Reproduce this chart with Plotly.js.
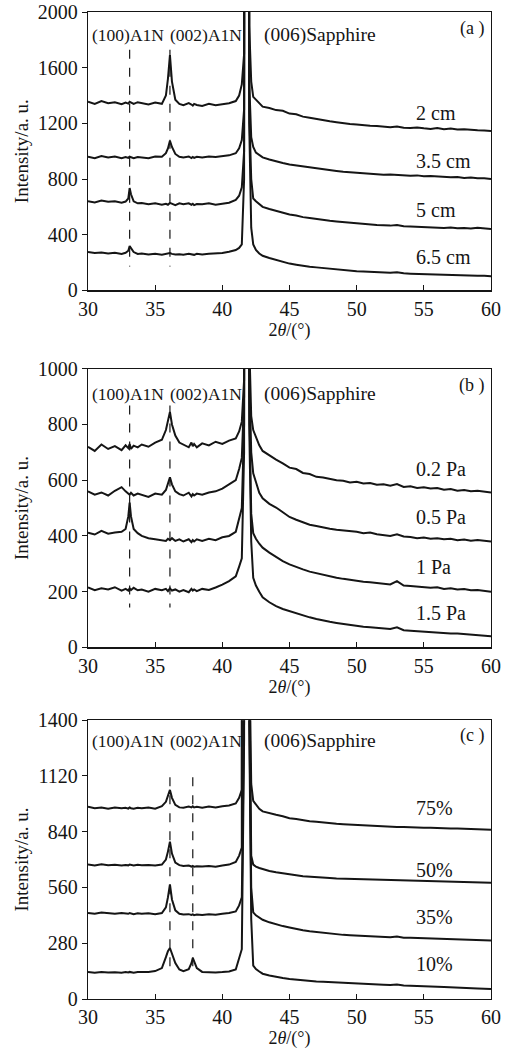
<!DOCTYPE html>
<html>
<head>
<meta charset="utf-8">
<script src="https://cdn.plot.ly/plotly-3.0.1.min.js"></script>
<style>html,body{margin:0;padding:0;background:#fff;}#chart{width:512px;height:1058px;}</style>
</head>
<body>
<div id="chart"></div>
<script>
// shared 2-theta grid (degrees)
const twoTheta = [30,30.5,31,31.5,32,32.5,32.8,33.0,33.1,33.2,33.4,33.7,34,34.5,35,35.5,35.8,35.95,36.1,36.25,36.5,36.8,37.1,37.5,37.7,37.8,37.9,38.1,38.5,39,39.5,40,40.5,41,41.25,41.45,41.62,41.8,42.0,42.15,42.3,42.5,42.75,43,43.5,44,44.5,45,45.5,46,46.5,47,47.5,48,48.5,49,49.5,50,50.5,51,51.5,52,52.5,53,53.5,54,54.5,55,55.5,56,56.5,57,57.5,58,58.5,59,59.5,60];

// panel (a): distance
const labelsA = ["2 cm","3.5 cm","5 cm","6.5 cm"];
const a_2cm = [1355,1340,1360,1345,1352,1338, 1350,1342,1355,1348,1340,1352, 1345,1335,1350,1340, 1400,1520,1690,1500,1370,1340, 1330,1345,1335,1328,1340,1332, 1325,1340,1330,1335,1345,1360, 1400,1480,1700,30000,1900,1500,1390,1370,1345,1320,
 1310,1295,1290,1270,1265,1248,1240,1230,1222,1215,1208,1200,1196,1192,1186,1182,1180,1176,1172,1178,1168,1166,1170,1164,1160,1166,1158,1162,1155,1158,1152,1150,1148,1145];
const a_35cm = [960,950,965,955,962,950, 958,952,960,955,950,958, 955,950,962,960, 985,1020,1075,1030,980,960, 955,962,950,958,952,960, 955,962,958,965,970,985, 1020,1080,1300,30000,1500,1100,1030,990,970,955,
 940,925,915,905,898,888,882,876,870,862,858,852,848,842,840,836,834,830,832,828,826,824,826,820,822,818,815,812,814,808,810,805,806,800];
const a_5cm = [640,632,645,636,640,630, 638,660,735,690,640,625, 628,618,625,615, 622,615,628,620,612,625, 618,625,615,622,612,620, 618,625,615,622,630,650, 680,740,1000,30000,1300,800,660,640,620,600,
 585,570,560,545,538,526,520,512,506,500,495,490,486,482,478,475,470,468,465,470,460,458,456,452,454,450,448,452,446,448,444,450,445,440];
const a_65cm = [275,268,272,265,270,262, 270,285,318,300,275,262, 265,258,262,255, 260,262,268,262,258,260, 255,262,258,260,255,262, 258,262,265,268,278,290, 305,330,800,30000,1200,450,330,290,265,248,
 232,218,205,192,184,175,170,165,160,154,150,145,142,138,135,132,130,128,126,130,122,120,118,118,115,114,112,110,108,108,106,105,104,102];

// panel (b): pressure
const labelsB = ["0.2 Pa","0.5 Pa","1 Pa","1.5 Pa"];
const b_02 = [720,705,728,712,722,708, 725,715,730,712,724,718, 728,720,735,745, 780,815,845,800,760,735, 728,718,735,722,730,718, 732,725,738,730,742,750, 775,810,960,30000,1100,830,780,755,725,705,
 688,674,660,645,640,626,622,612,610,604,600,598,592,594,588,590,584,585,580,586,576,578,572,575,570,572,566,568,562,565,560,562,558,556];
const b_05 = [560,548,556,545,562,575, 560,552,548,555,545,552, 548,540,552,548, 565,585,610,585,560,550, 545,555,542,550,545,552, 548,556,560,570,585,600, 640,680,900,30000,1000,700,625,590,555,535,
 515,502,485,468,458,448,440,436,430,426,422,420,416,415,410,412,406,404,400,406,398,396,392,394,390,392,388,390,385,387,383,385,382,380];
const b_1 = [412,405,418,408,412,415, 425,470,520,470,425,410, 400,392,388,385, 382,390,385,392,382,388, 380,388,378,385,380,388, 382,390,385,395,400,415, 460,500,800,30000,900,480,410,390,372,358,
 340,324,310,298,288,280,272,266,260,255,250,246,242,240,236,234,232,230,226,238,222,220,218,218,214,216,210,212,208,210,205,206,202,200];
const b_15 = [215,205,212,208,216,204, 210,204,212,206,214,205, 208,200,210,205, 210,202,212,204,208,200, 206,198,210,204,208,202, 210,206,215,225,238,255, 290,320,700,30000,800,380,250,222,200,180,
 162,148,138,130,122,115,108,102,96,92,88,84,80,76,74,72,70,68,66,72,62,60,58,57,55,54,52,50,50,48,46,45,42,40];

// panel (c): N2 ratio
const labelsC = ["75%","50%","35%","10%"];
const c_75 = [965,958,962,955,962,958, 960,956,962,958,955,960, 958,962,955,968, 990,1020,1050,1010,975,962, 960,966,962,968,962,965, 960,966,962,968,972,982, 1010,1050,1600,40000,1800,1080,995,975,955,942,
 932,925,918,908,904,897,893,890,886,882,880,878,876,874,872,870,868,866,866,864,864,862,862,860,860,858,858,856,856,855,854,853,852,850];
const c_50 = [675,670,676,672,674,670, 673,671,675,672,670,674, 671,673,670,675, 700,740,790,730,685,672, 668,670,665,668,664,667, 665,668,664,670,675,688, 720,760,1500,40000,1700,720,675,665,658,652,
 643,636,632,627,621,616,613,611,609,607,605,604,603,602,600,599,598,597,596,595,595,594,594,593,592,591,590,589,588,588,587,586,585,584];
const c_35 = [432,428,434,430,428,432, 430,428,432,429,426,430, 428,430,426,432, 460,510,575,500,445,428, 424,426,422,425,421,424, 422,426,423,428,432,440, 470,510,1400,40000,1500,560,435,420,408,398,
 385,374,366,359,351,345,340,336,332,328,325,322,320,318,316,314,312,311,310,314,308,307,306,305,304,302,301,300,299,298,297,296,295,294];
const c_10 = [135,132,136,133,134,132, 135,133,136,134,132,135, 134,136,140,155, 210,240,256,225,180,148, 140,150,180,206,190,155, 136,134,133,135,138,148, 205,250,1300,40000,1400,400,168,150,138,127,
 118,111,106,101,97,94,91,88,86,84,82,80,79,77,75,74,72,71,70,73,68,66,65,64,62,61,60,58,57,56,54,53,52,50];

// annotation data
const peakNames = ["(100)A1N","(002)A1N","(006)Sapphire"];
const dashA = [33.1, 36.1], dashB = [33.1, 36.1], dashC = [36.1, 37.8];
const yTicksA = [0,400,800,1200,1600,2000];
const yTicksB = [0,200,400,600,800,1000];
const yTicksC = [0,280,560,840,1120,1400];
const xTicks = [30,35,40,45,50,55,60];

const FONT = "Liberation Serif, Times New Roman, serif";
const INK = "#151515";

const panels = [
  {xa:"x",  ya:"y",  series:[a_2cm,a_35cm,a_5cm,a_65cm], labels:labelsA, labelY:[1271,929,579,243], dash:dashA, dashY:[1729,171], ymax:2000, ticks:yTicksA, tag:"(a)", tagY:1879, peakY:1836},
  {xa:"x2", ya:"y2", series:[b_02,b_05,b_1,b_15], labels:labelsB, labelY:[639,469,290,123], dash:dashB, dashY:[868,143], ymax:1000, ticks:yTicksB, tag:"(b)", tagY:940, peakY:910},
  {xa:"x3", ya:"y3", series:[c_75,c_50,c_35,c_10], labels:labelsC, labelY:[957,648,414,177], dash:dashC, dashY:[1113,140], ymax:1400, ticks:yTicksC, tag:"(c)", tagY:1325, peakY:1295}
];
const peakX = [32.95, 38.75, 47.3];

const data = [];
const annotations = [];
const shapes = [];
panels.forEach(p => {
  p.series.forEach(s => {
    data.push({x: twoTheta, y: s, xaxis: p.xa, yaxis: p.ya, type: "scatter", mode: "lines",
      line: {color: INK, width: 2}, hoverinfo: "skip", showlegend: false});
  });
  p.labels.forEach((t, i) => {
    annotations.push({x: 54.3, y: p.labelY[i], xref: p.xa, yref: p.ya, text: t, showarrow: false,
      xanchor: "left", yanchor: "middle", font: {family: FONT, size: 20, color: INK}});
  });
  peakNames.forEach((t, i) => {
    annotations.push({x: peakX[i], y: p.peakY, xref: p.xa, yref: p.ya, text: t, showarrow: false,
      xanchor: "center", yanchor: "middle", font: {family: FONT, size: i === 2 ? 19.5 : 17.5, color: INK}});
  });
  annotations.push({x: 58.6, y: p.tagY, xref: p.xa, yref: p.ya, text: p.tag.replace(")", " )"), showarrow: false,
    xanchor: "center", yanchor: "middle", font: {family: FONT, size: 18, color: INK}});
  p.dash.forEach(dx => {
    shapes.push({type: "line", xref: p.xa, yref: p.ya, x0: dx, x1: dx, y0: p.dashY[0], y1: p.dashY[1],
      line: {color: INK, width: 1.2, dash: "dash"}});
  });
});

function xaxis(anchor) {
  return {anchor: anchor, range: [30, 60], tickvals: xTicks, ticks: "inside", ticklen: 5, tickcolor: INK,
    showline: true, mirror: true, linecolor: INK, linewidth: 1.2, showgrid: false, zeroline: false,
    tickfont: {family: FONT, size: 20, color: INK}, ticklabeloverflow: "allow",
    title: {text: "2<i>θ</i>/(°)", font: {family: FONT, size: 18, color: INK}, standoff: 4}};
}
function yaxis(anchor, dom, p) {
  return {anchor: anchor, domain: dom, range: [0, p.ymax], tickvals: p.ticks, ticks: "outside", ticklen: 5, tickcolor: INK,
    showline: true, mirror: true, linecolor: INK, linewidth: 1.2, showgrid: false, zeroline: false,
    tickfont: {family: FONT, size: 20, color: INK}, ticklabeloverflow: "allow",
    title: {text: "Intensity/a. u.", font: {family: FONT, size: 19, color: INK}, standoff: 4}};
}

const layout = {
  width: 512, height: 1058,
  margin: {l: 88, r: 21, t: 12, b: 59},
  paper_bgcolor: "#fff", plot_bgcolor: "#fff",
  showlegend: false,
  xaxis: xaxis("y"), xaxis2: xaxis("y2"), xaxis3: xaxis("y3"),
  yaxis: yaxis("x", [0.7180, 1.0], panels[0]),
  yaxis2: yaxis("x2", [0.3562, 0.6386], panels[1]),
  yaxis3: yaxis("x3", [0.0, 0.2825], panels[2]),
  annotations: annotations,
  shapes: shapes
};

Plotly.newPlot("chart", data, layout, {staticPlot: true, displayModeBar: false});
</script>
</body>
</html>
